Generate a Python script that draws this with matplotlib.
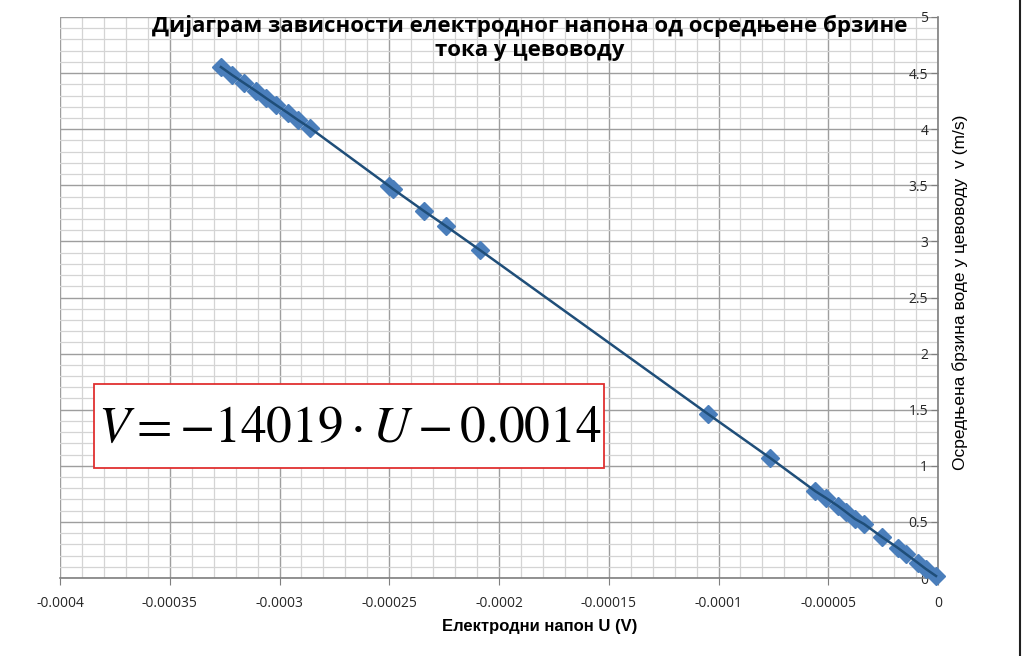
import numpy as np
import matplotlib
matplotlib.use("Agg")
import matplotlib.pyplot as plt
from matplotlib.ticker import MultipleLocator
from matplotlib.lines import Line2D
from matplotlib.patches import Rectangle

# measured points: electrode voltage U (V) and mean flow velocity v (m/s)
U_VOLT = [-0.0003267, -0.0003216, -0.0003162, -0.0003107, -0.0003062, -0.0003016,
          -0.0002961, -0.0002916, -0.0002861, -0.0002501, -0.0002483, -0.0002342,
          -0.0002242, -0.0002087, -0.0001048, -0.0000765, -0.0000560, -0.0000510,
          -0.0000456, -0.0000419, -0.0000378, -0.0000337, -0.0000255, -0.0000182,
          -0.0000146, -0.0000091, -0.0000055, -0.0000009]
V_FLOW = [4.554, 4.483, 4.412, 4.340, 4.278, 4.216,
          4.144, 4.082, 4.011, 3.494, 3.467, 3.271,
          3.137, 2.923, 1.462, 1.070, 0.775, 0.713,
          0.642, 0.588, 0.526, 0.481, 0.365, 0.267,
          0.214, 0.134, 0.080, 0.018]

X_TICKS = [-0.0004, -0.00035, -0.0003, -0.00025, -0.0002, -0.00015, -0.0001, -0.00005, 0]
X_TICK_LABELS = ["-0.0004", "-0.00035", "-0.0003", "-0.00025", "-0.0002",
                 "-0.00015", "-0.0001", "-0.00005", "0"]
Y_TICKS = [0, 0.5, 1, 1.5, 2, 2.5, 3, 3.5, 4, 4.5, 5]
Y_TICK_LABELS = ["0", "0.5", "1", "1.5", "2", "2.5", "3", "3.5", "4", "4.5", "5"]

TITLE = "Дијаграм зависности електродног напона од осредњене брзине\nтока у цевоводу"
XLABEL = "Електродни напон U (V)"
YLABEL = "Осредњена брзина воде у цевоводу  v (m/s)"
EQUATION = r"$V=-14019\cdot U-0.0014$"

plt.rcParams["font.family"] = ["Open Sans", "DejaVu Sans"]
plt.rcParams["mathtext.fontset"] = "stix"

W, H = 1024, 656
fig = plt.figure(figsize=(W / 100, H / 100), dpi=100)
ax = fig.add_axes([60 / W, 78 / H, 878 / W, 561 / H])

ax.set_xlim(-0.0004, 0)
ax.set_ylim(0, 5)

# grid: minor and major, Excel style
ax.xaxis.set_minor_locator(MultipleLocator(0.00001))
ax.yaxis.set_minor_locator(MultipleLocator(0.1))
ax.grid(which="minor", color="#d4d4d4", linewidth=0.9)
ax.grid(which="major", color="#9e9e9e", linewidth=1.0)
ax.set_axisbelow(True)

# y axis crosses at U = 0 (right edge), labels to its left
ax.spines["left"].set_position(("data", 0))
for s in ("right", "top"):
    ax.spines[s].set_visible(False)
for s in ("left", "bottom"):
    ax.spines[s].set_color("#7f7f7f")
    ax.spines[s].set_linewidth(1.2)

ax.set_xticks(X_TICKS)
ax.set_xticklabels(X_TICK_LABELS)
ax.set_yticks(Y_TICKS)
ax.set_yticklabels(Y_TICK_LABELS)
ax.tick_params(which="major", direction="out", length=5, color="#7f7f7f",
               labelsize=10, labelcolor="#262626")
ax.tick_params(which="minor", length=0)
ax.tick_params(axis="x", pad=8)
ax.tick_params(axis="y", pad=2)

ax.plot(U_VOLT, V_FLOW, linestyle="none", marker="D", markersize=9,
        color="#4a7ebb", markeredgecolor="#4a7ebb", zorder=3, clip_on=False)
ax.plot(U_VOLT, V_FLOW, color="#1f4e79", linewidth=1.8, zorder=4, clip_on=False)

fig.text(530 / W, 1 - 38 / H, TITLE, ha="center", va="center",
         fontsize=16, fontweight="bold", linespacing=1.2)
fig.text(540 / W, 1 - 626 / H, XLABEL, ha="center", va="center",
         fontsize=12, fontweight="bold", family=["Liberation Sans", "DejaVu Sans"])
fig.text(960 / W, 1 - 292 / H, YLABEL, ha="center", va="center",
         rotation=90, fontsize=12.5, family=["Liberation Sans", "DejaVu Sans"])

# equation box
fig.add_artist(Rectangle((94 / W, (H - 468) / H), 510 / W, 84 / H,
                         transform=fig.transFigure, fc="white", ec="#e03030",
                         lw=1.3, zorder=5))
fig.text(350 / W, 1 - 428 / H, EQUATION, ha="center", va="center",
         fontsize=37, zorder=6)

fig.add_artist(Line2D([1020 / W, 1020 / W], [0, 1], color="#202020",
                      linewidth=1.5, transform=fig.transFigure))

fig.savefig("out.png", dpi=100)
